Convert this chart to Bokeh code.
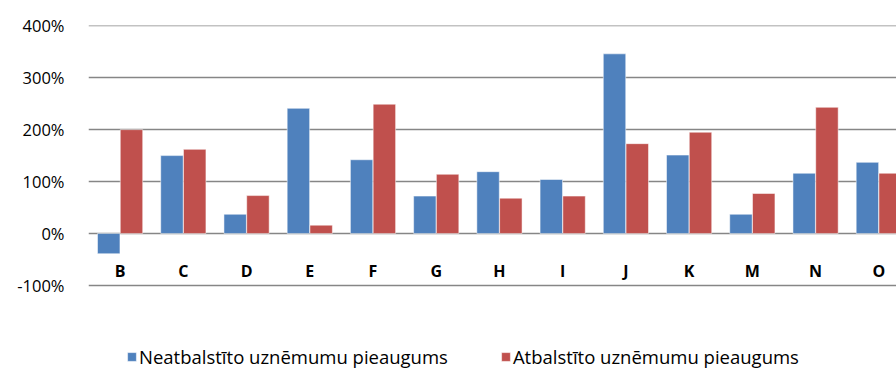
from bokeh.plotting import figure
from bokeh.models import (ColumnDataSource, Range1d, FixedTicker, PrintfTickFormatter,
                          Legend, LegendItem)
from bokeh.transform import dodge
from bokeh.core.properties import value
from bokeh.embed import file_html
from bokeh.resources import INLINE

categories = ["B", "C", "D", "E", "F", "G", "H", "I", "J", "K", "M", "N", "O"]
neatbalstito = [-39, 150, 37, 241, 142, 72, 119, 104, 346, 151, 37, 116, 137]
atbalstito = [200, 162, 73, 16, 249, 114, 68, 72, 173, 195, 77, 243, 116]
y_ticks = [-100, 0, 100, 200, 300, 400]
series_names = ["Neatbalstīto uznēmumu pieaugums", "Atbalstīto uznēmumu pieaugums"]

BLUE = "#4F81BD"
RED = "#C0504D"
FONT = "Open Sans"

src = ColumnDataSource(dict(
    x=list(range(len(categories))),
    cat=categories,
    a=neatbalstito,
    b=atbalstito,
    lab_y=[-73] * len(categories),
))

# the frame reaches the bottom of the canvas so that the legend below the
# -100% line is not clipped; ticks and grid lines stop at -100%
p = figure(width=896, height=369, output_backend="svg", toolbar_location=None,
           x_range=Range1d(-0.5, 12.28), y_range=Range1d(-262, 400.6),
           x_axis_location=None, min_border_left=88, min_border_top=25,
           min_border_bottom=0, min_border_right=0)
p.outline_line_color = None
p.xgrid.visible = False
p.ygrid.grid_line_color = "#868686"
p.ygrid.grid_line_width = 1.3
p.yaxis.ticker = FixedTicker(ticks=y_ticks)
p.yaxis.formatter = PrintfTickFormatter(format="%d%%")
p.yaxis.axis_line_color = None
p.yaxis.major_tick_line_color = None
p.yaxis.minor_tick_line_color = None
p.yaxis.major_label_standoff = 18
p.yaxis.major_label_text_font = FONT
p.yaxis.major_label_text_font_size = "16.5px"
p.yaxis.major_label_text_color = "#000000"

r1 = p.vbar(x=dodge("x", -0.18, range=p.x_range), top="a", width=0.355, source=src,
            fill_color=BLUE, line_color="#ffffff", line_alpha=0.5, line_width=1)
r2 = p.vbar(x=dodge("x", 0.18, range=p.x_range), top="b", width=0.355, source=src,
            fill_color=RED, line_color="#ffffff", line_alpha=0.5, line_width=1)

p.text(x="x", y="lab_y", text="cat", source=src, text_align="center",
       text_baseline="middle", text_font=value(FONT), text_font_style="bold",
       text_font_size="16px", text_color="#000000")

legend = Legend(items=[LegendItem(label=series_names[0], renderers=[r1]),
                       LegendItem(label=series_names[1], renderers=[r2])],
                orientation="horizontal", location=(38, 0),
                border_line_color=None, background_fill_alpha=0,
                padding=0, margin=0, spacing=52, label_standoff=2,
                glyph_width=11, glyph_height=11,
                label_text_font=FONT, label_text_font_size="18.5px",
                label_text_color="#000000")
p.add_layout(legend)

open("out.html", "w").write(file_html(p, INLINE))
